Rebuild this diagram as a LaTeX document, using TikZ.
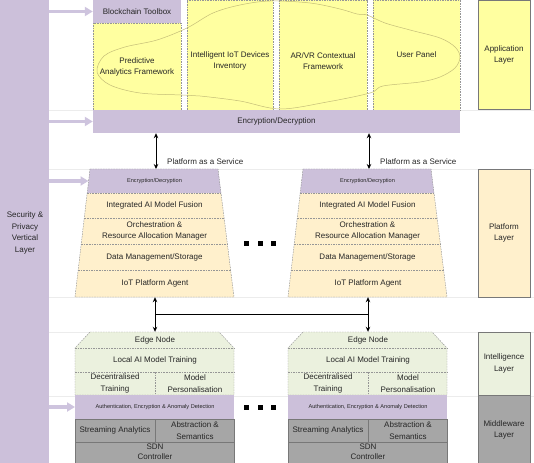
\documentclass[tikz,border=0pt]{standalone}
\usepackage{fontspec}
\setmainfont{Liberation Sans}
\usetikzlibrary{arrows.meta,calc}
\definecolor{lav}{RGB}{204,192,218}
\definecolor{lavarr}{RGB}{206,196,222}
\definecolor{yel}{RGB}{255,255,160}
\definecolor{peach}{RGB}{255,240,204}
\definecolor{grn}{RGB}{235,241,222}
\definecolor{gry}{RGB}{166,166,166}
\definecolor{txt}{RGB}{38,38,38}
\definecolor{cloudc}{RGB}{196,189,120}
\definecolor{dashc}{RGB}{150,150,150}
\definecolor{guide}{RGB}{236,236,236}
\definecolor{cellline}{RGB}{120,120,120}
\newcommand\platstack[2]{%
\begin{scope}[xshift=#1pt,name prefix=#2-]
 \fill[lav] (90,169) -- (218,169) -- (221,193) -- (87.2,193) -- cycle;
 \fill[peach] (87.2,193) -- (221,193) -- (234,297) -- (75,297) -- cycle;
 \draw[dline] (90,169) -- (218,169) -- (234,297) -- (75,297) -- cycle;
 \draw[dline] (87.2,193) -- (221,193);
 \draw[dline] (84.3,218) -- (224.1,218);
 \draw[dline] (81.2,244) -- (227.4,244);
 \draw[dline] (78.2,270) -- (230.6,270);
 \coordinate (top) at (156,169);
 \coordinate (encw) at (88.5,181);
 \node[smalltxt] (enc) at (154.5,181) {Encryption/Decryption};
 \node (fusion) at (154.5,205.5) {Integrated AI Model Fusion};
 \node (orch) at (154.5,231) {Orchestration \&\\Resource Allocation Manager};
 \node (data) at (154.5,257) {Data Management/Storage};
 \node[minimum height=27pt] (agent) at (155,283.5) {IoT Platform Agent};
\end{scope}}
\newcommand\edgestack[2]{%
\begin{scope}[xshift=#1pt,name prefix=#2-]
 \fill[grn] (90,332) -- (219,332) -- (234,348) -- (234,395) -- (75,395) -- (75,348) -- cycle;
 \draw[dline] (90,332) -- (219,332) -- (234,348) -- (234,395) -- (75,395) -- (75,348) -- cycle;
 \draw[dline] (75,348) -- (234,348);
 \draw[dline] (75,372) -- (234,372);
 \draw[dline] (155,372) -- (155,395);
 \fill[lav] (75,395) rectangle (234,419);
 \fill[gry] (75,419) rectangle (234,470);
 \draw[cellline,line width=0.5pt] (75,470) -- (75,419) -- (234,419) -- (234,470);
 \draw[cellline,line width=0.5pt] (75,442) -- (234,442);
 \draw[cellline,line width=0.5pt] (155,419) -- (155,442);
 \coordinate (authw) at (75,407);
 \node[minimum height=16pt] (edge) at (155,340) {Edge Node};
 \node (local) at (155,360) {Local AI Model Training};
 \node (dec) at (115,383.5) {Decentralised\\Training};
 \node (pers) at (195,383.5) {Model\\Personalisation};
 \node[smalltxt] (auth) at (155,407) {Authentication, Encryption \& Anomaly Detection};
 \node (stream) at (115,430.5) {Streaming Analytics};
 \node (abs) at (195,430.5) {Abstraction \&\\Semantics};
 \node[font=\fontsize{8}{10.5}\selectfont] (sdn) at (155,451.5) {SDN\\Controller};
\end{scope}}
\begin{document}
\begin{tikzpicture}[x=1pt,y=-1pt,
  every node/.style={text=txt,font=\fontsize{8}{11.5}\selectfont,inner sep=0pt,align=center},
  smalltxt/.style={font=\fontsize{5.6}{7}\selectfont},
  dline/.style={draw=dashc,line width=0.45pt,dash pattern=on 1.6pt off 1pt},
  lblbox/.style={draw=dashc!80!black,line width=0.5pt,minimum width=52pt},
  ybox/.style={dline,fill=yel},
  barrow/.style={draw=lavarr,line width=3.5pt,-{Triangle[length=8pt,width=9pt]}},
  blackarrow/.style={draw=black,line width=1pt,{Stealth[length=5pt,width=4.5pt]}-{Stealth[length=5pt,width=4.5pt]}},
  guideline/.style={draw=guide,line width=0.6pt}
]
\useasboundingbox (0,0) rectangle (534,462);
\clip (0,0) rectangle (534,462);
% faint guide lines
\foreach \gy in {110,169,297,332,396} \draw[guideline] (49,\gy) -- (534,\gy);
% security bar
\node[fill=lav,minimum width=49pt,minimum height=464pt] (sec) at (24.5,231) {};
\node (sectxt) at (25,233) {Security \&\\Privacy\\Vertical\\Layer};
% application layer
\node[fill=lav,minimum width=88pt,minimum height=23pt] (chain) at (137,11.5) {Blockchain Toolbox};
\node[ybox,minimum width=88pt,minimum height=87pt] (predbox) at (137,66.5) {};
\node[ybox,minimum width=86pt,minimum height=110pt] (invbox) at (230,55) {};
\node[ybox,minimum width=88pt,minimum height=110pt] (arbox) at (323,55) {};
\node[ybox,minimum width=87pt,minimum height=110pt] (userbox) at (416.5,55) {};
\draw[cloudc,line width=0.5pt] plot[smooth cycle,tension=0.55] coordinates {
 (97,72) (104,56) (125,47) (157,40) (187,28) (213,13) (240,5) (270,1) (310,3)
 (340,9) (357,14) (367,15) (385,23) (410,30) (440,38) (455,47) (460,57)
 (455,68) (440,77) (420,82) (383,86) (370,93) (327,102) (280,109) (240,101)
 (200,96) (182,95) (140,93) (110,85)};
\node (pred) at (137,67) {Predictive\\Analytics Framework};
\node (inv) at (230,61) {Intelligent IoT Devices\\Inventory};
\node (ar) at (323,61) {AR/VR Contextual\\Framework};
\node (user) at (416.5,55) {User Panel};
\node[fill=lav,minimum width=367pt,minimum height=23pt] (appenc) at (276.5,121.5) {Encryption/Decryption};
\node[lblbox,fill=yel,minimum height=109pt] (applayer) at (504,55) {Application\\Layer};
% platform stacks
\platstack{0}{p1}
\platstack{213}{p2}
\node[lblbox,fill=peach,minimum height=128pt] (platlayer) at (504,233) {Platform\\Layer};
% dots
\foreach \dx in {246,260,273} \fill[black] (\dx-2.5,240.5) rectangle (\dx+2.5,245.5);
\foreach \dx in {246,260,273} \fill[black] (\dx-2.5,404.5) rectangle (\dx+2.5,409.5);
% PaaS arrows
\draw[blackarrow] (appenc.south -| p1-top) -- (p1-top);
\draw[blackarrow] (appenc.south -| p2-top) -- (p2-top);
\node[anchor=west] (paas1) at (167,161.5) {Platform as a Service};
\node[anchor=west] (paas2) at (380,161.5) {Platform as a Service};
% edge stacks
\edgestack{0}{e1}
\edgestack{213}{e2}
\node[lblbox,fill=grn,minimum height=63pt] (intlayer) at (504,363.5) {Intelligence\\Layer};
\node[lblbox,fill=gry,minimum height=70pt] (midlayer) at (504,430) {Middleware\\Layer};
% platform-edge connectors
\draw[blackarrow] (p1-agent.south) -- (e1-edge.north);
\draw[blackarrow] (p2-agent.south) -- (e2-edge.north);
\draw[black,line width=1.1pt] ($(p1-agent.south)!0.5!(e1-edge.north)$) -- ($(p2-agent.south)!0.5!(e2-edge.north)$);
% security arrows
\draw[barrow] (sec.east |- chain.west) -- (chain.west);
\draw[barrow] (sec.east |- appenc.west) -- (appenc.west);
\draw[barrow] (sec.east |- p1-encw) -- (p1-encw);
\draw[barrow] (sec.east |- e1-authw) -- (e1-authw);
\end{tikzpicture}
\end{document}
